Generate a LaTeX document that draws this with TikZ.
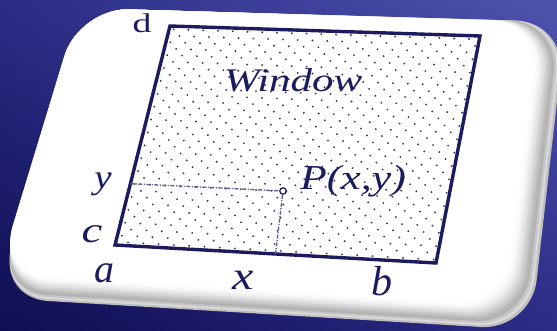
\documentclass[tikz,border=0pt]{standalone}
\usepackage{fontspec}
\setmainfont{Liberation Serif}
\usepackage{graphicx}
\usetikzlibrary{calc,shadings}

\definecolor{bgdark}{HTML}{0E0E52}
\definecolor{bgmid}{HTML}{2C2C86}
\definecolor{bglight}{HTML}{4E53AE}
\definecolor{ink}{HTML}{1B1B5E}
\definecolor{dotink}{HTML}{3A3A5A}

% size, horizontal stretch, text
\newcommand{\lbltxt}[3]{\fontsize{#1}{#1}\selectfont\scalebox{#2}[1]{#3}}

\begin{document}
\begin{tikzpicture}[x=1pt,y=-1pt,
    lbl/.style={text=ink,inner sep=0pt,anchor=base},
    guide/.style={ink!70,line width=1.4pt,dash pattern=on 4pt off 1.5pt on 1pt off 1.5pt}]
  \useasboundingbox (0,0) rectangle (557,331);
  % background
  \begin{scope}[y=1pt]
    \shade[upper left=bgmid,upper right=bglight,lower left=bgdark,lower right=bgmid]
      (0,-331) rectangle (557,0);
  \end{scope}
  % card with bevelled rim
  \foreach \k/\col in {0/gray!50,2/gray!30,4/gray!45,6/gray!60,8/gray!55,10/gray!45,
                       12/gray!35,14/gray!25,16/gray!17,18/gray!10,20/gray!5,22/gray!2,24/white} {
    \fill[\col,rounded corners=50] (79,8) -- (566-1.1*\k,22) -- (531-1.1*\k,330-\k)
      -- (-2,298-\k) -- cycle;
  }
  % window corners
  \coordinate (wnw) at (170,26);
  \coordinate (wne) at (480,36);
  \coordinate (wse) at (436,263);
  \coordinate (wsw) at (115,245);
  % dotted fill
  \foreach \j in {0,...,33} {
    \foreach \i in {0,...,20} {
      \pgfmathsetmacro\u{(\i+0.3+0.5*mod(\j,2))/21}
      \pgfmathsetmacro\v{(\j+0.5)/34}
      \coordinate (dl) at ($(wnw)!\v!(wsw)$);
      \coordinate (dr) at ($(wne)!\v!(wse)$);
      \fill[dotink] ($(dl)!\u!(dr)$) circle (1.05);
    }
  }
  \draw[ink,line width=3.4pt] (wnw) -- (wne) -- (wse) -- (wsw) -- cycle;
  % point and its guides
  \coordinate (ly) at ($(wsw)!0.28!(wnw)$);
  \coordinate (bx) at ($(wsw)!0.5!(wse)$);
  \node[circle,draw=ink,line width=1.2pt,inner sep=0pt,minimum size=6.5pt] (P) at (283,191) {};
  \draw[guide] (ly) -- (P);
  \draw[guide] (P) -- (bx);
  % labels
  \node[lbl] (dlbl) at (142,33) {\lbltxt{27}{1.4}{d}};
  \node[lbl] (ylbl) at (103,189) {\lbltxt{34}{1.15}{\itshape y}};
  \node[lbl] (clbl) at (92,243) {\lbltxt{36}{1.3}{\itshape c}};
  \node[lbl] (albl) at (104,282) {\lbltxt{40}{1}{\itshape a}};
  \node[lbl] (xlbl) at (243,290) {\lbltxt{40}{1.2}{\itshape x}};
  \node[lbl] (blbl) at (382,295) {\lbltxt{42}{1}{\itshape b}};
  \node[lbl] (win) at (293,92) {\lbltxt{33}{1.3}{\itshape Window}};
  \node[lbl] (Plbl) at (353,190) {\lbltxt{35}{1.25}{\itshape P(x,y)}};
\end{tikzpicture}
\end{document}
